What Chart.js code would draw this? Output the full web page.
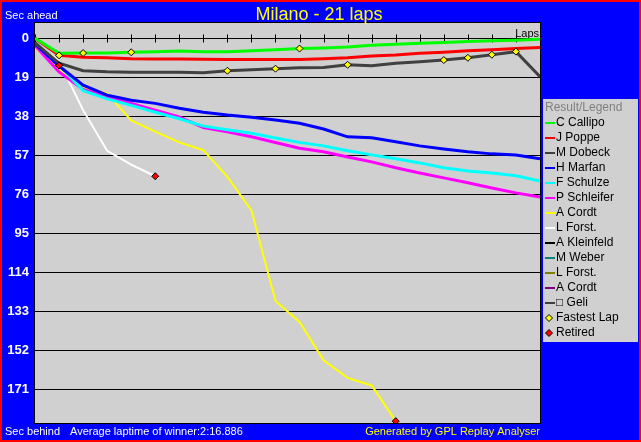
<!DOCTYPE html>
<html>
<head>
<meta charset="utf-8">
<script src="https://cdn.jsdelivr.net/npm/chart.js@4/dist/chart.umd.min.js"></script>
<style>
  html, body { margin: 0; padding: 0; background: #0000ff; overflow: hidden; }
  canvas { display: block; }
</style>
</head>
<body>
<canvas id="raceChart" width="641" height="442"></canvas>
<script>
// Laps and gap to the winner's average pace (seconds, positive = behind)
const laps = [0, 1, 2, 3, 4, 5, 6, 7, 8, 9, 10, 11, 12, 13, 14, 15, 16, 17, 18, 19, 20, 21];
const yTicks = [0, 19, 38, 57, 76, 95, 114, 133, 152, 171];

const callipo = [0, 7.3, 7.2, 7.2, 6.8, 6.5, 6.2, 6.6, 6.6, 6.1, 5.6, 5.0, 4.7, 4.2, 3.4, 2.9, 2.4, 2.0, 1.6, 1.2, 0.9, 0.5];
const poppe = [0, 8.3, 9.2, 9.5, 10.0, 10.1, 10.1, 10.2, 10.3, 10.3, 10.3, 10.3, 10.0, 9.5, 8.6, 8.1, 7.3, 6.8, 6.1, 5.6, 5.0, 4.5];
const dobeck = [2.2, 12.1, 15.8, 16.3, 16.5, 16.5, 16.6, 16.8, 15.8, 15.3, 14.8, 14.3, 14.2, 12.9, 13.4, 12.2, 11.4, 10.6, 9.5, 8.0, 6.5, 18.7];
const marfan = [2.8, 13.5, 22.8, 27.7, 30.2, 31.7, 34.1, 36.0, 37.4, 38.5, 39.8, 41.4, 44.2, 48.0, 48.5, 50.4, 52.4, 53.9, 55.3, 56.3, 56.8, 58.7];
const schulze = [2.6, 13.0, 25.5, 29.5, 32.7, 36.0, 39.2, 42.8, 44.5, 46.3, 48.6, 50.7, 52.4, 54.8, 56.8, 58.7, 60.7, 63.1, 64.6, 65.6, 67.0, 69.5];
const schleifer = [3.5, 16.4, 24.9, 28.4, 31.7, 35.0, 38.3, 43.5, 45.5, 48.0, 50.8, 53.6, 55.3, 57.8, 60.2, 63.1, 65.6, 68.0, 70.4, 72.9, 75.3, 77.3];
const cordt = [4.5, 14.8, 23.9, 26.8, 40.0, 45.5, 50.7, 54.5, 67.5, 83.8, 128.0, 138.2, 156.9, 165.4, 169.1, 186.5];
const forst = [2.6, 11.1, 35.0, 54.8, 61.5, 67.2];
const kleinfeld = [2.2, 13.2];
const weber = [2.6, 13.2];
const forst2 = [2.6, 13.2];
const cordt2 = [3.0, 13.2];
const geli = [2.4, 13.2];

const driverNames = ['C Callipo', 'J Poppe', 'M Dobeck', 'H Marfan', 'F Schulze', 'P Schleifer', 'A Cordt', 'L Forst.', 'A Kleinfeld', 'M Weber', 'L Forst.', 'A Cordt', '\u25A1 Geli'];
const driverColors = ['#00ff00', '#ff0000', '#404040', '#0000ff', '#00ffff', '#ff00ff', '#ffff00', '#ffffff', '#000000', '#008080', '#808000', '#800080', '#404040'];
const driverGaps = [callipo, poppe, dobeck, marfan, schulze, schleifer, cordt, forst, kleinfeld, weber, forst2, cordt2, geli];
const driverWidths = [3, 3, 3, 3, 3, 3, 2, 2, 3, 3, 3, 3, 3];

// fastest lap markers: lap number and the driver index who set it
const fastLapLaps = [1, 2, 4, 8, 10, 11, 13, 17, 18, 19, 20];
const fastLapDrivers = [1, 0, 0, 2, 2, 0, 2, 2, 2, 2, 2];

const toPoints = (gaps) => gaps.map((v, i) => ({ x: laps[i], y: v }));

const fastPoints = fastLapLaps.map((lap, i) => ({ x: lap, y: driverGaps[fastLapDrivers[i]][lap] }));
const retiredPoints = driverGaps
  .filter((g) => g.length < laps.length)
  .map((g) => ({ x: laps[g.length - 1], y: g[g.length - 1] }));

const datasets = [
  {
    label: 'Fastest Lap',
    data: fastPoints,
    showLine: false,
    pointStyle: 'rectRot',
    pointRadius: 3.5,
    pointBackgroundColor: '#ffff00',
    pointBorderColor: '#000000',
    pointBorderWidth: 1,
  },
  {
    label: 'Retired',
    data: retiredPoints,
    showLine: false,
    pointStyle: 'rectRot',
    pointRadius: 3.5,
    pointBackgroundColor: '#ff0000',
    pointBorderColor: '#000000',
    pointBorderWidth: 1,
  },
];
driverNames.forEach((name, i) => {
  datasets.push({
    label: name,
    data: toPoints(driverGaps[i]),
    borderColor: driverColors[i],
    borderWidth: driverWidths[i],
    pointRadius: 0,
    tension: 0,
  });
});

const frame = {
  id: 'frame',
  beforeDraw(chart) {
    const { ctx, width, height, chartArea: a } = chart;
    ctx.save();
    ctx.fillStyle = '#ff0000';
    ctx.fillRect(0, 0, width, height);
    ctx.fillStyle = '#0000ff';
    ctx.fillRect(2, 2, width - 4, height - 4);
    ctx.fillStyle = '#d0d0d0';
    ctx.fillRect(a.left, a.top, a.right - a.left, a.bottom - a.top);
    ctx.restore();
  },
  beforeDatasetsDraw(chart) {
    // lap ticks on the zero line
    const { ctx, scales } = chart;
    const y0 = Math.round(scales.y.getPixelForValue(0)) + 0.5;
    ctx.save();
    ctx.strokeStyle = '#000000';
    ctx.lineWidth = 1;
    ctx.beginPath();
    laps.forEach((lap) => {
      const x = Math.round(scales.x.getPixelForValue(lap)) + 0.5;
      ctx.moveTo(x, y0 - 4);
      ctx.lineTo(x, y0 + 4);
    });
    ctx.stroke();
    ctx.fillStyle = '#000000';
    ctx.font = '11px Arial';
    ctx.textAlign = 'right';
    ctx.textBaseline = 'alphabetic';
    ctx.fillText('Laps', chart.chartArea.right - 1, y0 - 2);
    ctx.restore();
  },
  afterDraw(chart) {
    const { ctx, width, chartArea: a } = chart;
    ctx.save();
    ctx.strokeStyle = '#000000';
    ctx.lineWidth = 1;
    ctx.strokeRect(a.left - 0.5, a.top - 0.5, a.right - a.left + 1, a.bottom - a.top + 1);

    // title and captions
    ctx.textBaseline = 'alphabetic';
    ctx.fillStyle = '#ffff00';
    ctx.font = '18px Arial';
    ctx.textAlign = 'center';
    ctx.fillText('Milano - 21 laps', 319, 20);
    ctx.font = '11px Arial';
    ctx.textAlign = 'left';
    ctx.fillStyle = '#ffffff';
    ctx.fillText('Sec ahead', 5, 19);
    ctx.fillText('Sec behind', 5, 435);
    ctx.fillText('Average laptime of winner:2:16.886', 70, 435);
    ctx.fillStyle = '#ffff00';
    ctx.textAlign = 'right';
    ctx.fillText('Generated by GPL Replay Analyser', a.right, 435);

    // legend box
    const lx = 543;
    ctx.fillStyle = '#d0d0d0';
    ctx.fillRect(lx, 99, 95, 243);
    ctx.font = '12px Arial';
    ctx.textAlign = 'left';
    ctx.textBaseline = 'middle';
    ctx.fillStyle = '#808080';
    ctx.fillText('Result/Legend', lx + 2, 108);
    driverNames.forEach((name, i) => {
      const y = 123 + i * 15;
      ctx.strokeStyle = driverColors[i];
      ctx.lineWidth = 2;
      ctx.beginPath();
      ctx.moveTo(lx + 2, y);
      ctx.lineTo(lx + 12, y);
      ctx.stroke();
      ctx.fillStyle = '#000000';
      ctx.fillText(name, lx + 13, y);
    });
    [['Fastest Lap', '#ffff00'], ['Retired', '#ff0000']].forEach(([label, color], i) => {
      const y = 123 + (driverNames.length + i) * 15;
      const cx = lx + 6;
      ctx.fillStyle = color;
      ctx.strokeStyle = '#000000';
      ctx.lineWidth = 1;
      ctx.beginPath();
      ctx.moveTo(cx, y - 3.5);
      ctx.lineTo(cx + 3.5, y);
      ctx.lineTo(cx, y + 3.5);
      ctx.lineTo(cx - 3.5, y);
      ctx.closePath();
      ctx.fill();
      ctx.stroke();
      ctx.fillStyle = '#000000';
      ctx.fillText(label, lx + 13, y);
    });
    ctx.restore();
  },
};

new Chart(document.getElementById('raceChart'), {
  type: 'line',
  data: { datasets },
  options: {
    responsive: false,
    animation: false,
    events: [],
    layout: { padding: { top: 23, right: 101, bottom: 19, left: 0 } },
    plugins: {
      legend: { display: false },
      tooltip: { enabled: false },
    },
    scales: {
      x: {
        type: 'linear',
        display: false,
        min: 0,
        max: 21,
      },
      y: {
        type: 'linear',
        reverse: true,
        min: -7.45,
        max: 187.4,
        afterBuildTicks: (scale) => {
          scale.ticks = yTicks.map((v) => ({ value: v }));
        },
        afterFit: (scale) => {
          scale.width = 35;
        },
        border: { display: false },
        grid: {
          color: '#000000',
          lineWidth: 1,
          drawTicks: false,
        },
        ticks: {
          color: '#ffffff',
          font: { family: 'Arial', size: 13, weight: 'bold' },
          padding: 6,
        },
      },
    },
  },
  plugins: [frame],
});
</script>
</body>
</html>
